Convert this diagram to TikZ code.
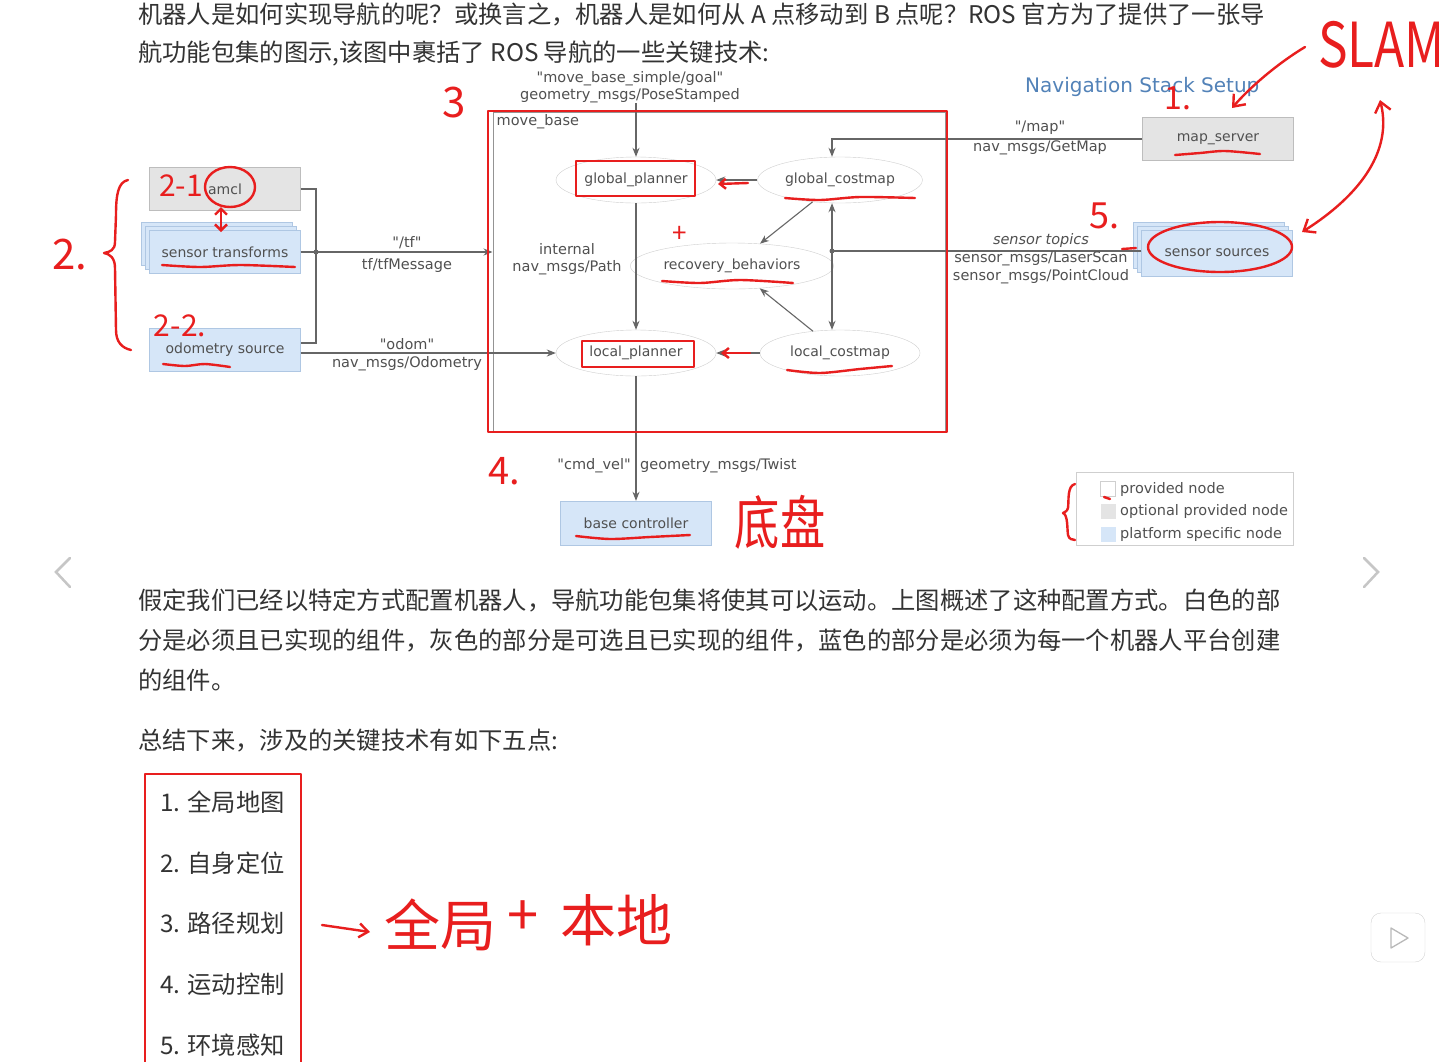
\documentclass[tikz,border=0pt]{standalone}
\usepackage{fontspec}
\setmainfont{DejaVu Sans}[Ligatures=TeXOff]
\newfontfamily\cjk{Noto Sans CJK SC}
\usetikzlibrary{arrows.meta,shapes.geometric,shadows}
\definecolor{bodytext}{HTML}{333333}
\definecolor{diagtext}{HTML}{505050}
\definecolor{diagline}{HTML}{666666}
\definecolor{optfill}{HTML}{E4E4E4}
\definecolor{optedge}{HTML}{BDBDBD}
\definecolor{platfill}{HTML}{D6E6F8}
\definecolor{platedge}{HTML}{AFC7E3}
\definecolor{nodeedge}{HTML}{CFCFCF}
\definecolor{titleblue}{HTML}{5282B8}
\definecolor{ink}{HTML}{E81E1E}
\tikzset{
  para/.style={anchor=west,inner sep=0pt,text=bodytext,font=\cjk\fontsize{24.3}{28}\selectfont},
  dlabel/.style={inner sep=0pt,text=diagtext,align=center,font=\fontsize{14.5}{17}\selectfont},
  optnode/.style={draw=optedge,fill=optfill,minimum width=151pt,minimum height=43pt,text=diagtext,font=\fontsize{14}{16}\selectfont},
  platnode/.style={optnode,draw=platedge,fill=platfill},
  stacknode/.style={platnode,double copy shadow={shadow xshift=-4pt,shadow yshift=4pt,draw=platedge,fill=platfill}},
  provnode/.style={ellipse,draw=nodeedge,fill=white,minimum width=160pt,minimum height=46pt,text=diagtext,font=\fontsize{14}{16}\selectfont},
  link/.style={draw=diagline,line width=1.1pt},
  flow/.style={link,-{Stealth[length=9pt,width=7pt]}},
  pen/.style={draw=ink,line width=2.4pt,line cap=round,line join=round},
  scrawl/.style={text=ink,inner sep=0pt,font=\cjk\fontsize{#1}{#1}\selectfont},
}
\begin{document}
\begin{tikzpicture}[x=1pt,y=-1pt]
  \fill[white] (0,0) rectangle (1439,1061);
  \useasboundingbox (0,0) rectangle (1439,1061);
  % page text above the figure
  \node[para] (introa) at (138,14) {机器人是如何实现导航的呢？或换言之，机器人是如何从 A 点移动到 B 点呢？ROS 官方为了提供了一张导};
  \node[para] (introb) at (138,53) {航功能包集的图示,该图中裹括了 ROS 导航的一些关键技术:};
  % navigation stack figure
  \node[text=titleblue,anchor=west,inner sep=0pt,font=\fontsize{20}{24}\selectfont] (title) at (1025,87) {Navigation Stack Setup};
  \node[draw=diagline!70,line width=1pt,minimum width=452pt,minimum height=320pt,inner sep=0pt] (movebase) at (719,272) {};
  \node[dlabel,anchor=north west] (mblabel) at ([xshift=4pt,yshift=-3pt]movebase.north west) {move\_base};
  \node[provnode] (gplan) at (636,180) {global\_planner};
  \node[provnode] (gcost) at (840,180) {global\_costmap};
  \node[provnode] (recov) at (732,266) {recovery\_behaviors};
  \node[provnode] (lplan) at (636,353) {local\_planner};
  \node[provnode] (lcost) at (840,353) {local\_costmap};
  \node[optnode] (amcl) at (225,189) {amcl};
  \node[stacknode] (senstf) at (225,252) {sensor transforms};
  \node[platnode] (odom) at (225,350) {odometry source};
  \node[optnode] (mapsrv) at (1218,139) {map\_server};
  \node[stacknode,minimum height=46pt] (sensrc) at (1217,253) {sensor sources};
  \node[platnode,minimum height=44pt] (base) at (636,523) {base controller};
  \coordinate (goal) at (636,103);
  \coordinate (tfj) at (316,252);
  \coordinate (sj) at (832,251);
  \draw[flow] (goal) -- (gplan.north);
  \draw[flow] (mapsrv.west) -| ([xshift=-8pt]gcost.north);
  \draw[link] (amcl.east) -| (tfj) |- ([yshift=7pt]odom.east);
  \draw[link] (senstf.east) -- (tfj);
  \draw[flow] (tfj) -- (tfj -| movebase.west);
  \fill[diagline] (tfj) circle (2.5pt);
  \draw[flow] (odom.east |- lplan.west) -- (lplan.west);
  \draw[flow] (gplan.south) -- (lplan.north);
  \draw[flow] (gcost.west) -- (gplan.east);
  \draw[flow] (gcost) -- (recov);
  \draw[flow] (lcost) -- (recov);
  \draw[link,{Stealth[length=9pt,width=7pt]}-{Stealth[length=9pt,width=7pt]}] ([xshift=-8pt]gcost.south) -- ([xshift=-8pt]lcost.north);
  \draw[link] (sensrc.west |- sj) -- (sj);
  \fill[diagline] (sj) circle (2.5pt);
  \draw[flow] (lcost.west) -- (lplan.east);
  \draw[flow] (lplan.south) -- (base.north);
  % connector labels
  \node[dlabel] (goallbl) at (630,87) {"move\_base\_simple/goal"\\geometry\_msgs/PoseStamped};
  \node[dlabel] (mapname) at (1040,128) {"/map"};
  \node[dlabel] (maptype) at (1040,148) {nav\_msgs/GetMap};
  \node[dlabel] (tfname) at (407,243) {"/tf"};
  \node[dlabel] (tftype) at (407,265) {tf/tfMessage};
  \node[dlabel] (odomname) at (407,344) {"odom"};
  \node[dlabel] (odomtype) at (407,364) {nav\_msgs/Odometry};
  \node[dlabel] (pathlbl) at (567,259) {internal\\nav\_msgs/Path};
  \node[dlabel,font=\fontsize{14.5}{18}\selectfont] (senslbl) at (1041,259) {\textit{sensor topics}\\sensor\_msgs/LaserScan\\sensor\_msgs/PointCloud};
  \node[dlabel,anchor=east] (cmdlbl) at (631,466) {"cmd\_vel"};
  \node[dlabel,anchor=west] (twistlbl) at (640,466) {geometry\_msgs/Twist};
  % legend
  \node[draw=nodeedge,minimum width=217pt,minimum height=73pt,inner sep=0pt] (legend) at (1184.5,508.5) {};
  \node[draw=nodeedge,fill=white,minimum size=15pt,inner sep=0pt] (keyprov) at (1108,489) {};
  \node[fill=optfill,minimum size=15pt,inner sep=0pt] (keyopt) at (1108,511) {};
  \node[fill=platfill,minimum size=15pt,inner sep=0pt] (keyplat) at (1108,534) {};
  \node[dlabel,anchor=west] at (1120,489) {provided node};
  \node[dlabel,anchor=west] at (1120,511) {optional provided node};
  \node[dlabel,anchor=west] at (1120,534) {platform specific node};
  % slider arrows and player button
  \draw[gray!45,line width=2.5pt,line cap=round] (70,558) -- (56,572) -- (70,587);
  \draw[gray!45,line width=2.5pt,line cap=round] (1364,558) -- (1378,572) -- (1364,587);
  \draw[gray!35,fill=white,rounded corners=10pt] (1371,913) rectangle (1425,962);
  \draw[gray!55,line width=1.3pt,line join=round] (1391,928) -- (1391,948) -- (1408,938) -- cycle;
  % page text below the figure
  \node[para] (parta) at (138,600) {假定我们已经以特定方式配置机器人，导航功能包集将使其可以运动。上图概述了这种配置方式。白色的部};
  \node[para] (partb) at (138,640) {分是必须且已实现的组件，灰色的部分是可选且已实现的组件，蓝色的部分是必须为每一个机器人平台创建};
  \node[para] (partc) at (138,680) {的组件。};
  \node[para] (summary) at (138,741) {总结下来，涉及的关键技术有如下五点:};
  \foreach \i/\item [count=\k from 0] in {1/全局地图,2/自身定位,3/路径规划,4/运动控制,5/环境感知}
    \node[para] (item\i) at (160,802+60.8*\k) {\i. \item};
  % red pen marks
  \draw[pen] (145,774) rectangle (301,1075);
  \draw[pen] (488,111) rectangle (947,432);
  \draw[pen] (576,161) rectangle (695,196);
  \draw[pen] (582,341) rectangle (694,367);
  \node[scrawl=42] (mark3) at (454,103) {3};
  \node[scrawl=42] (mark2) at (70,255) {2.};
  \node[scrawl=30] (mark21) at (181,186) {2-1};
  \node[scrawl=30] (mark22) at (180,326) {2-2.};
  \node[scrawl=32] (mark1) at (1178,98) {1.};
  \node[scrawl=38] (mark4) at (504,471) {4.};
  \node[scrawl=36] (mark5) at (1104,216) {5.};
  \node[scrawl=26] (plus) at (680,234) {+};
  \node[scrawl=62,xscale=0.8,anchor=west] (slam) at (1318,45) {SLAM};
  \node[scrawl=58,xscale=0.78] (chassis) at (780,522) {底盘};
  \node[scrawl=56] (globalw) at (440,925) {全局};
  \node[scrawl=56] (plusw) at (523,918) {+};
  \node[scrawl=56] (localw) at (616,920) {本地};
  \draw[pen,-{Straight Barb[length=9pt,width=14pt]}] (322,925) -- (370,932);
  \draw[pen] (230,187) ellipse (25 and 20);
  \draw[pen,{Straight Barb[length=6pt]}-{Straight Barb[length=6pt]}] (221,207) -- (221,232);
  \draw[pen] (128,180) .. controls (118,182) and (116,195) .. (116,215) -- (115,242) .. controls (115,250) and (110,252) .. (104,253) .. controls (110,254) and (115,258) .. (115,268) -- (116,330) .. controls (116,342) and (122,348) .. (131,350);
  \draw[pen] (1075,484) .. controls (1067,486) and (1069,500) .. (1068,508) .. controls (1067,512) and (1064,512) .. (1063,513) .. controls (1068,515) and (1067,528) .. (1068,535) .. controls (1069,539) and (1072,540) .. (1075,540);
  \draw[pen] (1104,497) -- (1110,499);
  \draw[pen,-{Straight Barb[length=10pt,width=16pt]}] (1305,47) .. controls (1280,62) and (1252,85) .. (1232,108);
  \draw[pen,{Straight Barb[length=10pt,width=16pt]}-{Straight Barb[length=10pt,width=16pt]}] (1302,232) .. controls (1345,205) and (1395,160) .. (1380,100);
  \draw[pen] (1220,247) ellipse (72 and 25);
  \draw[pen] (1122,249) -- (1136,248);
  \draw[pen,-{Straight Barb[length=6pt,width=10pt]}] (748,183) -- (718,184);
  \draw[pen,-{Straight Barb[length=6pt,width=10pt]}] (750,353) -- (721,353);
  \draw[pen] plot[smooth] coordinates {(1175,155) (1200,153) (1225,151) (1260,154)};
  \draw[pen] plot[smooth] coordinates {(162,265) (200,267) (240,265) (295,267)};
  \draw[pen] plot[smooth] coordinates {(163,364) (185,366) (205,364) (230,367)};
  \draw[pen] plot[smooth] coordinates {(785,198) (820,200) (860,197) (915,198)};
  \draw[pen] plot[smooth] coordinates {(662,281) (700,283) (740,280) (793,283)};
  \draw[pen] plot[smooth] coordinates {(787,370) (820,373) (860,369) (892,366)};
  \draw[pen] plot[smooth] coordinates {(576,536) (610,539) (650,537) (690,535)};
\end{tikzpicture}
\end{document}
